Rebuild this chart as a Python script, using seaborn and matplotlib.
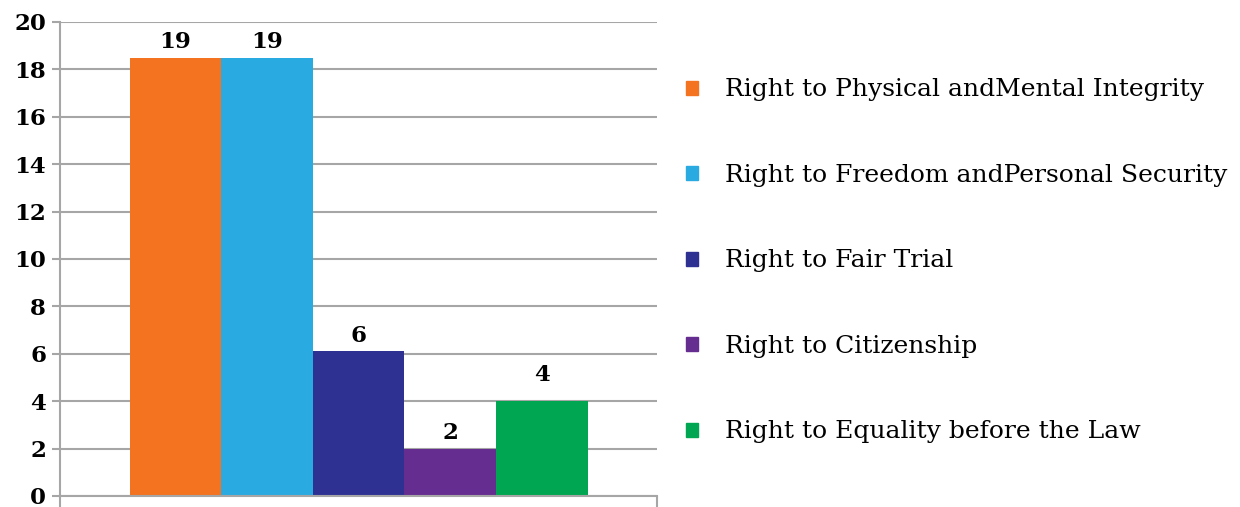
import matplotlib
matplotlib.use("Agg")
import matplotlib.pyplot as plt
import seaborn as sns
import pandas as pd

# data
categories = ['Right to Physical andMental Integrity',
              'Right to Freedom andPersonal Security',
              'Right to Fair Trial',
              'Right to Citizenship',
              'Right to Equality before the Law']
values = [18.5, 18.5, 6.1, 2.0, 4.0]
value_labels = ['19', '19', '6', '2', '4']
colors = ['#F37321', '#29ABE2', '#2E3192', '#662D91', '#00A651']
label_pads = [3, 3, 3, 3, 11]

df = pd.DataFrame({'group': [''] * len(categories), 'right': categories, 'count': values})

sns.set_style('white')
plt.rcParams['font.family'] = ['DejaVu Serif']
plt.rcParams['text.color'] = 'black'
plt.rcParams['ytick.color'] = 'black'

fig = plt.figure(figsize=(12.4, 5.07), dpi=100)
ax = fig.add_axes([0.0484, 0.0217, 0.4815, 0.935])

sns.barplot(data=df, x='group', y='count', hue='right', hue_order=categories,
            palette=colors, width=0.767, saturation=1, linewidth=0,
            legend=False, ax=ax)

# value labels above the bars
for bar, lab, pad in zip(ax.patches, value_labels, label_pads):
    ax.annotate(lab, (bar.get_x() + bar.get_width() / 2, bar.get_height()),
                xytext=(0, pad), textcoords='offset points',
                ha='center', va='bottom', fontsize=16.5, fontweight='bold')

ax.set_ylim(0, 20)
ax.set_xlim(-0.5, 0.5)
ax.set_yticks(range(0, 21, 2))
ax.set_yticklabels([str(v) for v in range(0, 21, 2)], fontsize=16.5, fontweight='bold')
ax.set_xticks([-0.5, 0.5])
ax.set_xticklabels(['', ''])
ax.set_xlabel('')
ax.set_ylabel('')

grid_col = '#a6a6a6'
ax.grid(axis='y', color=grid_col, linewidth=1.5)
ax.set_axisbelow(True)
for side in ['top', 'right']:
    ax.spines[side].set_visible(False)
for side in ['left', 'bottom']:
    ax.spines[side].set_color(grid_col)
    ax.spines[side].set_linewidth(1.5)
ax.tick_params(axis='y', length=6, width=1.5, color=grid_col, labelcolor='black', pad=4, left=True)
ax.tick_params(axis='x', length=8, width=1.5, color=grid_col, direction='out', bottom=True)

handles = [plt.Rectangle((0, 0), 1, 1, color=c) for c in colors]
fig.legend(handles, categories, loc='upper left', bbox_to_anchor=(0.545, 0.865),
           frameon=False, prop={'family': 'DejaVu Serif', 'size': 18},
           labelcolor='black', handlelength=0.48, handleheight=0.48,
           handletextpad=1.1, labelspacing=2.5, borderaxespad=0)

fig.savefig('out.png', dpi=100)
